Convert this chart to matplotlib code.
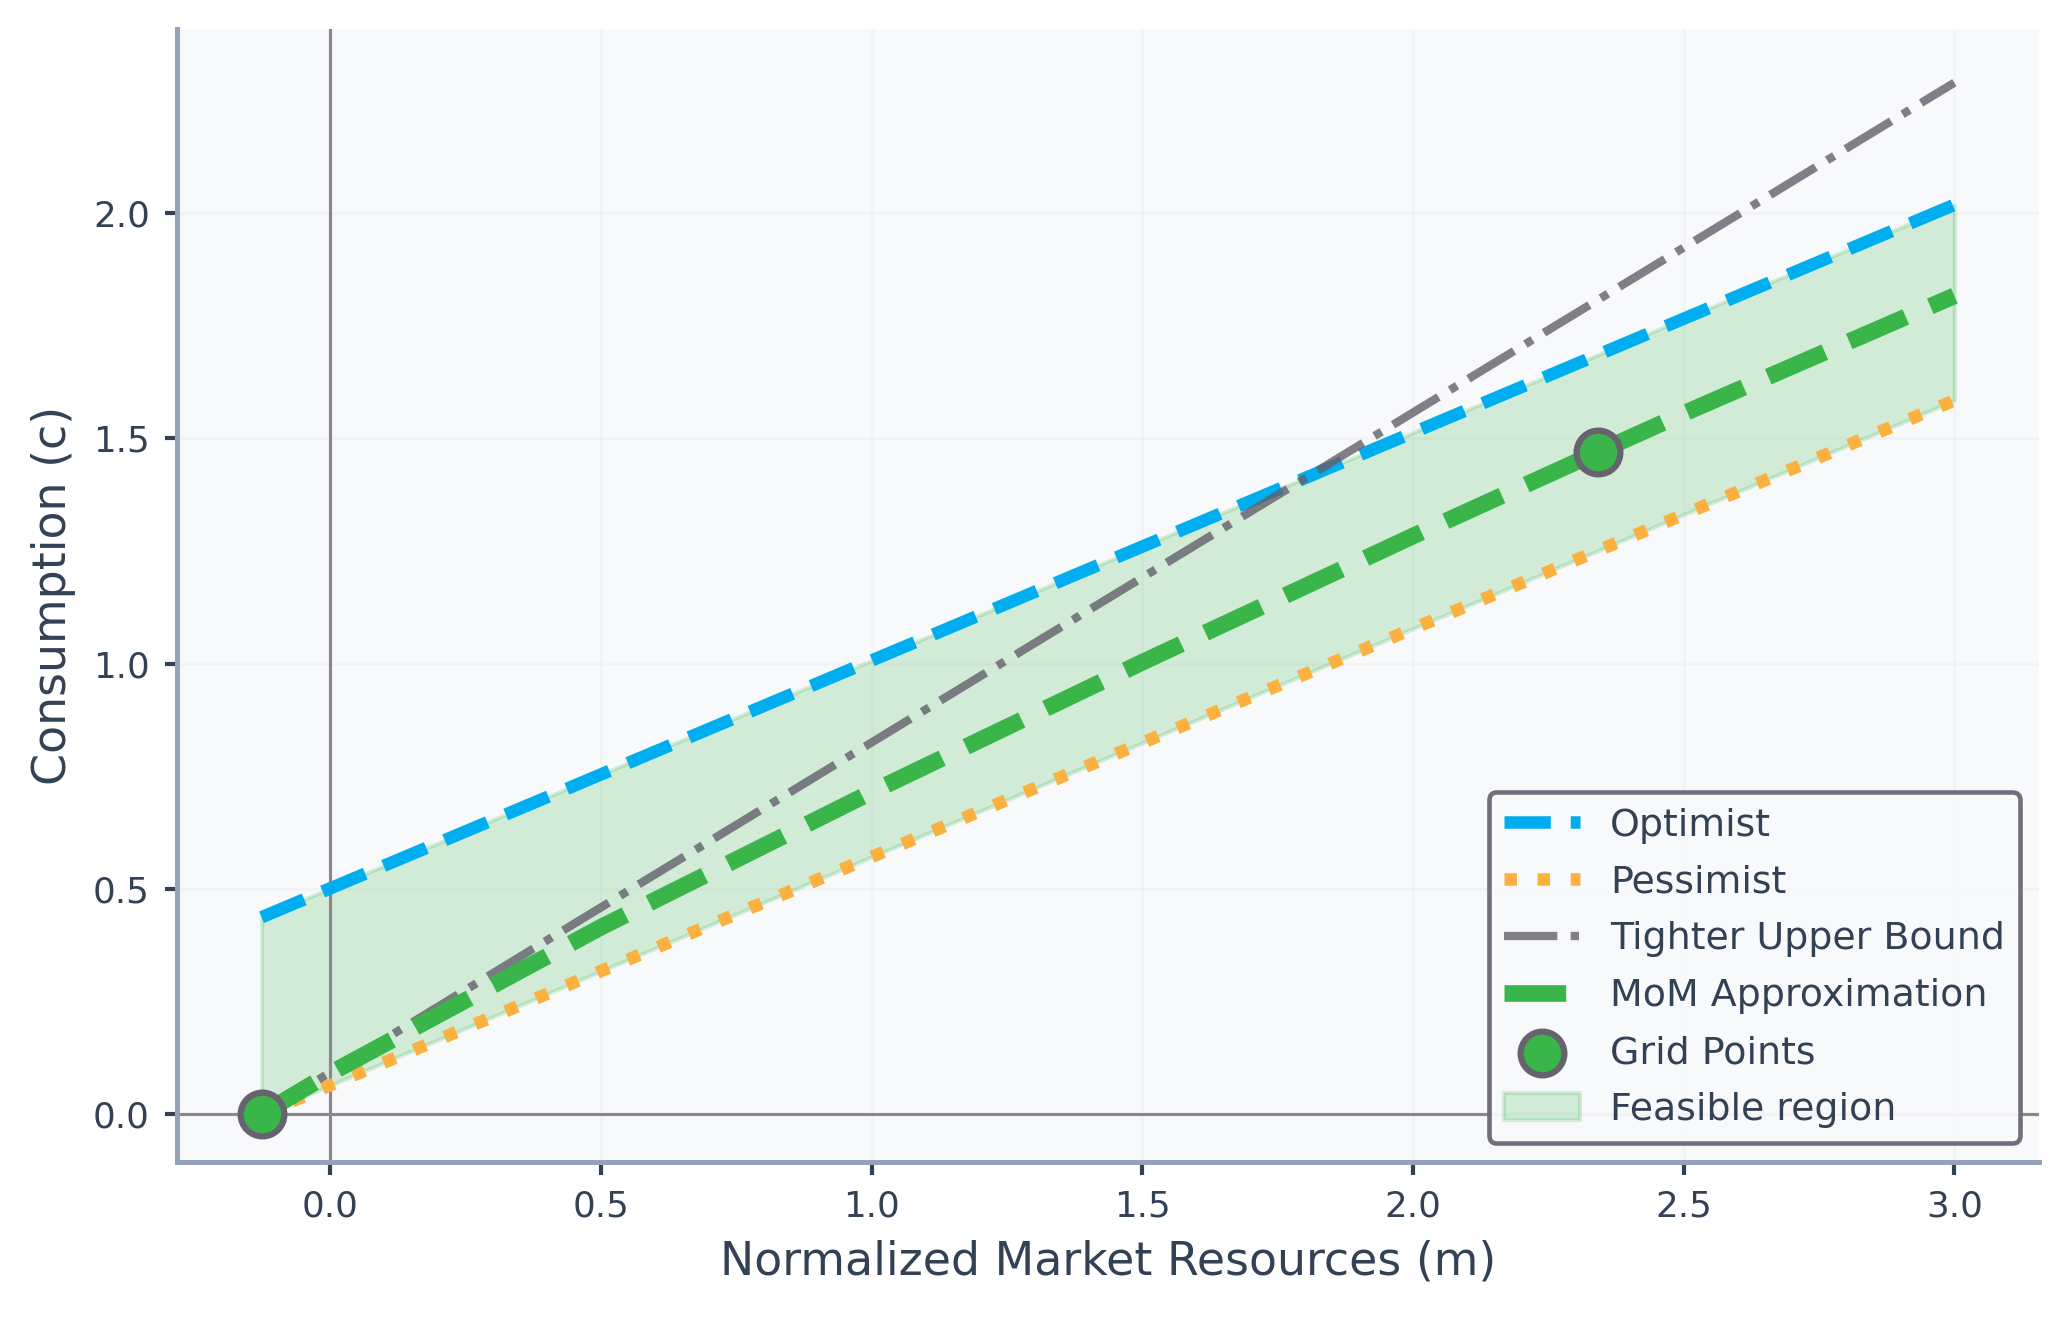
import matplotlib
matplotlib.use("Agg")
import matplotlib.pyplot as plt

# end points of the straight bounds
bound_m = [-0.127, 3.0]
optimist_c = [0.437, 2.018]
pessimist_c = [0.0, 1.584]
tighter_c = [0.0, 2.289]

# method-of-moderation approximation
mom_m = [-0.127, 0.0, 0.5, 1.0, 1.5, 2.0, 2.341, 2.5, 3.0]
mom_c = [0.0, 0.091, 0.415, 0.715, 1.003, 1.283, 1.469, 1.555, 1.816]

# grid points
grid_m = [-0.127, 2.341]
grid_c = [0.0, 1.469]

text_col = "#334155"
spine_col = "#94a3b8"

plt.rcParams["font.family"] = "DejaVu Sans"

fig = plt.figure(figsize=(2069 / 300, 1320 / 300), dpi=300)
ax = fig.add_axes([0.0855, 0.1197, 0.9, 0.8583])
ax.set_facecolor("#f8f9fb")

ax.fill_between(bound_m, pessimist_c, optimist_c, color="#39b54a", alpha=0.2,
                label="Feasible region")
ax.axhline(0, color="#8a8790", lw=0.75)
ax.axvline(0, color="#8a8790", lw=0.75)

ax.plot(bound_m, optimist_c, "--", color="#00aeef", lw=3, label="Optimist")
ax.plot(bound_m, pessimist_c, ":", color="#fbb040", lw=3, label="Pessimist")
ax.plot(bound_m, tighter_c, "-.", color="#625f6a", alpha=0.8, lw=2,
        label="Tighter Upper Bound")
ax.plot(mom_m, mom_c, "--", color="#39b54a", lw=4, label="MoM Approximation")
ax.scatter(grid_m, grid_c, s=110, color="#39b54a", edgecolor="#67636e",
           linewidth=1.5, zorder=5, label="Grid Points")

ax.set_ylim(-0.106, 2.408)
ax.grid(True, color="#e5e7eb", lw=0.6, alpha=0.35)
ax.set_axisbelow(True)

for s in ["top", "right"]:
    ax.spines[s].set_visible(False)
for s in ["left", "bottom"]:
    ax.spines[s].set_color(spine_col)
    ax.spines[s].set_linewidth(1.2)

ax.tick_params(axis="both", colors=text_col, labelsize=8.6, length=3, width=1.0)
ax.set_xlabel("Normalized Market Resources (m)", fontsize=11, color=text_col)
ax.set_ylabel("Consumption (c)", fontsize=11, color=text_col)

handles, labels = ax.get_legend_handles_labels()
order = ["Optimist", "Pessimist", "Tighter Upper Bound", "MoM Approximation",
         "Grid Points", "Feasible region"]
hmap = dict(zip(labels, handles))
leg = ax.legend([hmap[k] for k in order], order, loc="lower right",
                fontsize=9.1, labelspacing=0.55, frameon=True, fancybox=True,
                framealpha=0.95, facecolor="#f8f9fb", edgecolor="#6b6775")
leg.get_frame().set_linewidth(1.1)
for t in leg.get_texts():
    t.set_color(text_col)

fig.savefig("out.png", dpi=300)
